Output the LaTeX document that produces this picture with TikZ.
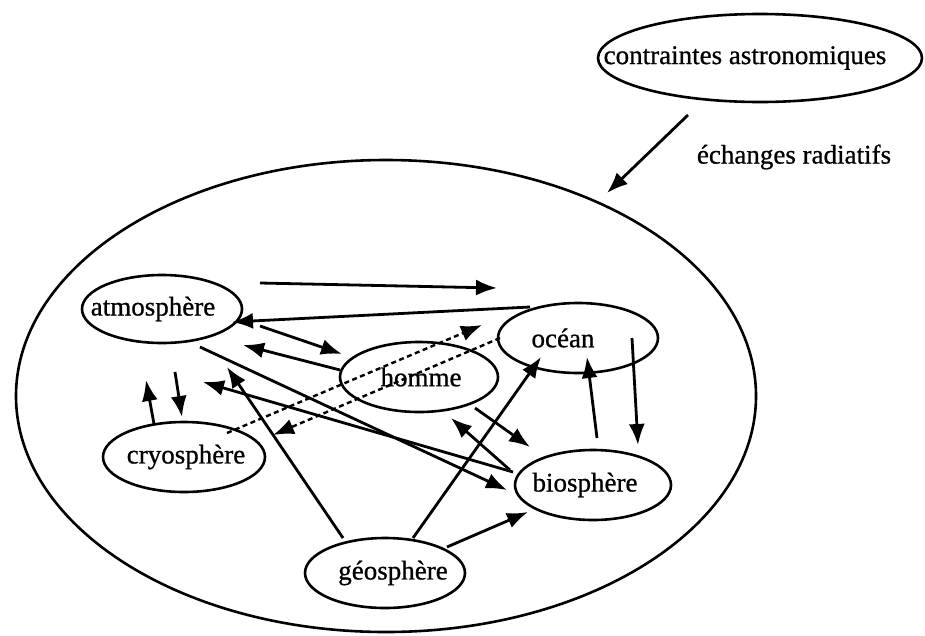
\documentclass[tikz,border=0pt]{standalone}
\usepackage{fontspec}
\setmainfont[FakeBold=0.8]{Liberation Serif}
\usetikzlibrary{shapes.geometric,arrows.meta,calc}

\begin{document}
\begin{tikzpicture}[x=1pt,y=-1pt,
  every node/.style={font=\fontsize{27}{32}\selectfont},
  sphere/.style={draw,ellipse,line width=2.6pt,inner sep=0pt,outer sep=0pt},
  tip/.style={-{Latex[length=21pt,width=16pt]}},
  arr/.style={line width=2.8pt,tip},
  dashlink/.style={line width=2.4pt,dash pattern=on 5pt off 3.5pt}
]
\useasboundingbox (0,0) rectangle (925,635);

% the climate system and the outer forcing
\node[sphere,minimum width=740pt,minimum height=472pt] (sys) at (386,396) {};
\node[sphere,minimum width=324pt,minimum height=88pt] (astro) at (760,58)
  {\makebox[0pt]{\hspace*{-30pt}contraintes astronomiques}};
\node (rad) at (794,157) {échanges radiatifs};

% the components
\node[sphere,minimum width=160pt,minimum height=68pt] (atm) at (162,309)
  {\makebox[0pt]{\hspace*{-18pt}atmosphère}};
\node[sphere,minimum width=162pt,minimum height=70pt] (cryo) at (184,457)
  {\makebox[0pt]{\hspace*{4pt}cryosphère}};
\node[sphere,minimum width=158pt,minimum height=70pt] (homme) at (419,377)
  {\makebox[0pt]{\hspace*{4pt}homme}};
\node[sphere,minimum width=160pt,minimum height=70pt] (ocean) at (578,338)
  {\makebox[0pt]{\hspace*{-30pt}océan}};
\node[sphere,minimum width=156pt,minimum height=70pt] (bio) at (593,485)
  {\makebox[0pt]{\hspace*{-16pt}biosphère}};
\node[sphere,minimum width=160pt,minimum height=70pt] (geo) at (385,573)
  {\makebox[0pt]{\hspace*{16pt}géosphère}};

% radiative forcing
\draw[arr] ($(astro)+(-72,57)$) -- ($(sys)+(221,-203)$);

% free arrow above the components
\coordinate (topL) at ($(atm)+(98,-26)$);
\coordinate (topR) at ($(ocean)+(-81,-50)$);
\draw[arr] (topL) -- (topR);

% atmosphere exchanges
\draw[arr] ($(ocean)+(-48,-31)$) -- ($(atm)+(70,13)$);
\draw[arr] ($(atm)+(98,17)$) -- ($(homme)+(-77,-23)$);
\draw[arr] ($(homme)+(-79,-7)$) -- ($(atm)+(81,36)$);
\draw[arr] ($(atm)+(38,38)$) -- ($(bio)+(-86,5)$);
\draw[arr] ($(bio)+(-80,-13)$) -- ($(atm)+(41,73)$);
\draw[arr] ($(cryo)+(-30,-33)$) -- ($(atm)+(-16,71)$);
\draw[arr] ($(atm)+(13,63)$) -- ($(cryo)+(-2,-40)$);

% cryosphere - ocean (dashed)
\draw[dashlink,tip] ($(cryo)+(43,-24)$) -- ($(ocean)+(-96,-13)$);
\draw[dashlink,tip] ($(ocean)+(-78,0)$) -- ($(cryo)+(89,-22)$);

% geosphere
\draw[arr] ($(geo)+(-42,-35)$) -- ($(atm)+(65,58)$);
\draw[arr] ($(geo)+(28,-35)$) -- ($(ocean)+(-37,19)$);
\draw[arr] ($(geo)+(62,-26)$) -- ($(bio)+(-65,27)$);

% homme - biosphere
\draw[arr] ($(homme)+(56,31)$) -- ($(bio)+(-63,-38)$);
\draw[arr] ($(bio)+(-83,-15)$) -- ($(homme)+(32,41)$);

% ocean - biosphere
\draw[arr] ($(bio)+(4,-47)$) -- ($(ocean)+(9,19)$);
\draw[arr] ($(ocean)+(54,0)$) -- ($(bio)+(45,-40)$);
\end{tikzpicture}
\end{document}
